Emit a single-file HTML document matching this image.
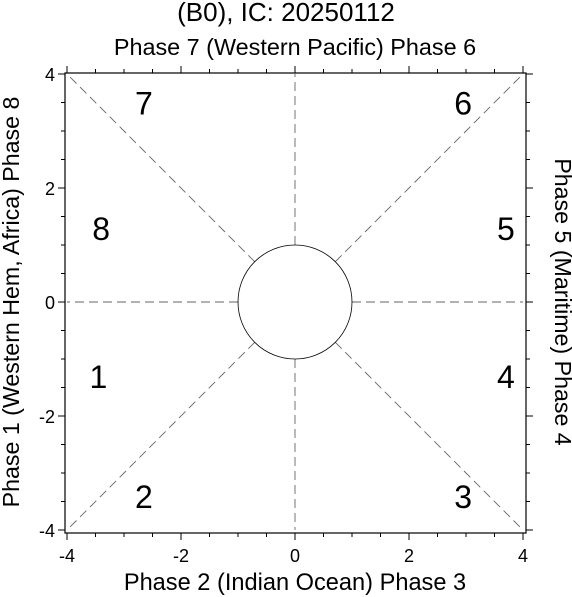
<!DOCTYPE html>
<html><head><meta charset="utf-8"><style>
html,body{margin:0;padding:0;background:#fff}
svg{display:block;font-family:"Liberation Sans",sans-serif}
</style></head><body>
<svg id="c" width="572" height="597" viewBox="0 0 572 597">
<rect x="0" y="0" width="572" height="597" fill="#fff"/>
<text x="286" y="21" font-size="26" text-anchor="middle">(B0), IC: 20250112</text>
<text x="295" y="55" font-size="23.4" text-anchor="middle">Phase 7 (Western Pacific) Phase 6</text>
<text x="295" y="590" font-size="23.6" text-anchor="middle">Phase 2 (Indian Ocean) Phase 3</text>
<text transform="translate(19,302) rotate(-90)" font-size="23.2" text-anchor="middle">Phase 1 (Western Hem, Africa) Phase 8</text>
<text transform="translate(555,302) rotate(90)" font-size="23.2" text-anchor="middle">Phase 5 (Maritime) Phase 4</text>
<g id="plot"></g>
</svg>
<script>
const xTicks=[-4,-2,0,2,4];
const yTicks=[-4,-2,0,2,4];
const phaseNums=["1","2","3","4","5","6","7","8"];
const phaseX=[-3.45,-2.65,2.95,3.7,3.7,2.95,-2.65,-3.4];
const phaseY=[-1.3,-3.4,-3.4,-1.3,1.3,3.5,3.5,1.3];
const circleR=[1];
const X0=295,Y0=302,S=57;
const sx=v=>X0+v*S, sy=v=>Y0-v*S;
const g=document.getElementById('plot');
const NS='http://www.w3.org/2000/svg';
function mk(t,a){const e=document.createElementNS(NS,t);for(const k in a)e.setAttribute(k,a[k]);g.appendChild(e);return e;}
const dirs=[[1,0],[-1,0],[0,1],[0,-1],[1,1],[1,-1],[-1,1],[-1,-1]];
dirs.forEach(d=>{const n=Math.hypot(d[0],d[1]);
 const l=mk('line',{x1:sx(d[0]/n*circleR[0]),y1:sy(d[1]/n*circleR[0]),x2:sx(d[0]*4),y2:sy(d[1]*4),stroke:'#666','stroke-width':0.9,'stroke-dasharray':'9,5'});
 
 });
const c=mk('circle',{cx:sx(0),cy:sy(0),r:circleR[0]*S,fill:'#fff',stroke:'#000','stroke-width':0.8});


const L=sx(-4)-2,R=sx(4)+3,T=sy(4)-1,B=sy(-4)+3;
const bx=mk('rect',{x:L,y:T,width:R-L,height:B-T,fill:'none',stroke:'#000','stroke-width':1.2});


for(let v=-4;v<=4.001;v+=0.5){const maj=Math.abs(v%2)<1e-6;const len=maj?7:4;
 const x=sx(v),y=sy(v);
 const tk=[[x,B,x,B+len],[x,T,x,T-len],[L,y,L-len,y],[R,y,R+len,y]];
 tk.forEach(t=>{const l=mk('line',{x1:t[0],y1:t[1],x2:t[2],y2:t[3],stroke:'#000','stroke-width':1});
 
 });}
xTicks.forEach(v=>{const t=mk('text',{x:sx(v),y:B+29,'font-size':18,'text-anchor':'middle'});t.textContent=v;
 
 });
yTicks.forEach(v=>{const t=mk('text',{x:L-10,y:sy(v)+7,'font-size':18,'text-anchor':'end'});t.textContent=v;
 
 });
phaseNums.forEach((p,i)=>{const t=mk('text',{x:sx(phaseX[i]),y:sy(phaseY[i])+12,'font-size':32,'text-anchor':'middle'});t.textContent=p;
 
 });
</script>
</body></html>
